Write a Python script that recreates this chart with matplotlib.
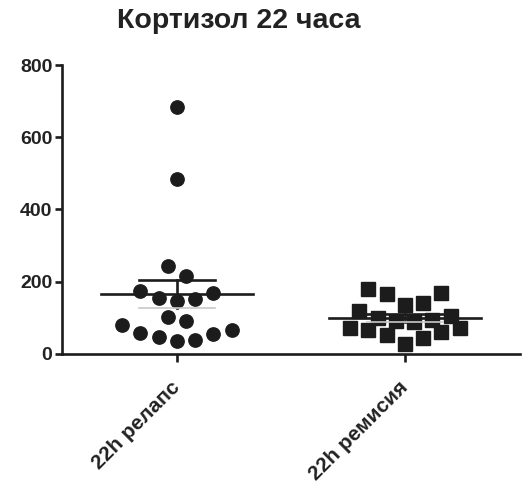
import numpy as np
import matplotlib
matplotlib.use("Agg")
import matplotlib.pyplot as plt

TITLE = "Кортизол 22 часа"
GROUPS = ["22h релапс", "22h ремисия"]
MARKERS = ["o", "s"]
Y_TICKS = [0, 200, 400, 600, 800]

# values
relapse = [36, 38, 48, 56, 57, 66, 80, 90, 103, 147, 152, 156, 169, 175,
           216, 244, 484, 684]
remission = [28, 43, 53, 62, 66, 71, 71, 88, 91, 95, 100, 105, 119, 135,
             140, 165, 168, 180]

plt.rcParams['font.family'] = ['Liberation Sans', 'DejaVu Sans']
plt.rcParams['font.weight'] = 'bold'

INK = '#1c1c1c'


def graphpad_slots(values, bin_height=46.0):
    # group values into rows, then spread each row centre-out: 0,+1,-1,+2,...
    vals = np.sort(np.asarray(values, dtype=float))
    slots = np.zeros(len(vals))
    i = 0
    while i < len(vals):
        j = i
        while j < len(vals) and vals[j] - vals[i] < bin_height:
            j += 1
        n = j - i
        for k in range(n):
            step = (k + 1) // 2 if n % 2 else k // 2 + 0.5
            sign = 1 if (k % 2 == (1 if n % 2 else 0)) else -1
            slots[i + k] = sign * step
        i = j
    return vals, slots


fig = plt.figure(figsize=(5.23, 4.88), dpi=100)
ax = fig.add_axes([0.1185, 0.2746, 0.8755, 0.5922])

slot_w = 0.08
for gi, (vals, mk) in enumerate(zip([relapse, remission], MARKERS)):
    v, s = graphpad_slots(vals)
    ax.plot(gi + s * slot_w, v, linestyle='none', marker=mk, ms=9.6,
            color=INK, mec=INK, zorder=3)
    mean = v.mean()
    sem = v.std(ddof=1) / np.sqrt(len(v))
    ax.plot([gi - 0.333, gi + 0.333], [mean, mean], color=INK, lw=1.9,
            zorder=2)
    ax.plot([gi, gi], [mean - sem, mean + sem], color=INK, lw=1.9, zorder=2)
    ax.plot([gi - 0.167, gi + 0.167], [mean + sem, mean + sem], color=INK,
            lw=1.9, zorder=2)
    ax.plot([gi - 0.167, gi + 0.167], [mean - sem, mean - sem],
            color='#c8c8c8', lw=1.2, zorder=4)

ax.set_xlim(-0.504, 1.504)
ax.set_ylim(0, 800)
ax.set_yticks(Y_TICKS)
ax.set_xticks(range(len(GROUPS)))
ax.set_xticklabels(GROUPS, rotation=45, ha='right', va='center',
                   rotation_mode='anchor')

for side in ['top', 'right']:
    ax.spines[side].set_visible(False)
for side in ['left', 'bottom']:
    ax.spines[side].set_linewidth(1.9)
    ax.spines[side].set_color(INK)

ax.tick_params(axis='y', length=5, width=1.9, color=INK, pad=2,
               labelsize=14, labelcolor='#222222')
ax.tick_params(axis='x', length=6, width=1.9, color=INK, pad=16,
               labelsize=15, labelcolor='#222222')

fig.text(0.456, 0.956, TITLE, ha='center', va='center', fontsize=20.5,
         fontweight='bold', color='#222222')

fig.savefig("out.png", dpi=100)
